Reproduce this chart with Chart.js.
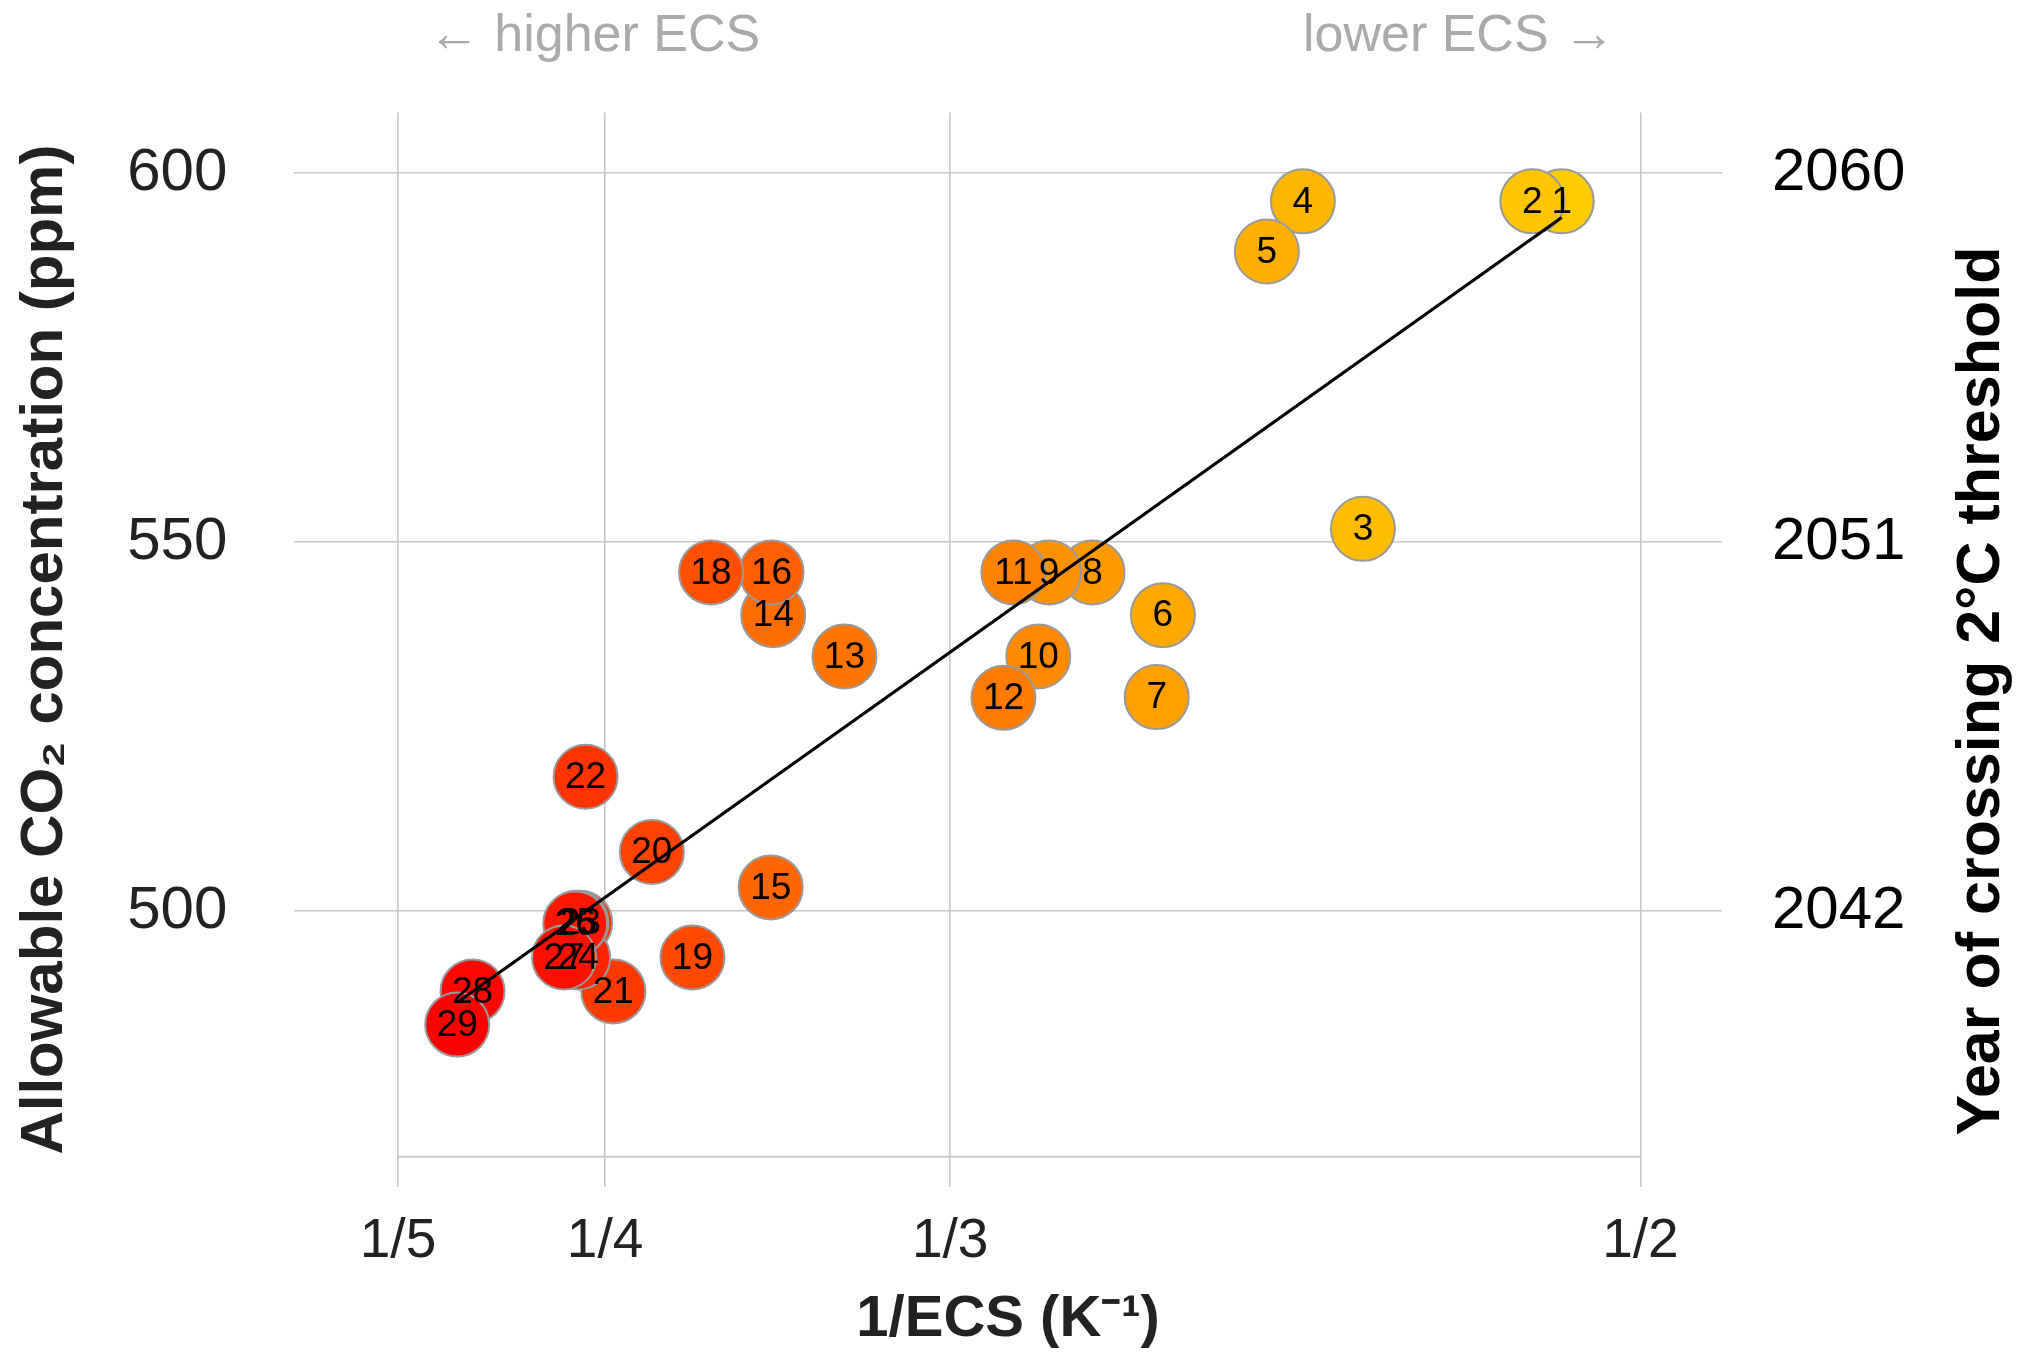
<!DOCTYPE html>
<html>
<head>
<meta charset="utf-8">
<script src="https://cdn.jsdelivr.net/npm/chart.js@4/dist/chart.umd.min.js"></script>
<style>
  html, body { margin: 0; padding: 0; background: #ffffff; }
  #wrap { width: 2025px; height: 1355px; }
</style>
</head>
<body>
<div id="wrap"><canvas id="c" width="2025" height="1355"></canvas></div>
<script>
// ---- data ----
const modelIds = [1,2,3,4,5,6,7,8,9,10,11,12,13,14,15,16,18,19,20,21,22,23,24,25,26,27,28,29];
const invEcs   = [0.4810,0.4739,0.4330,0.4185,0.4098,0.3847,0.3832,0.3677,0.3572,0.3546,0.3486,0.3462,0.3078,0.2906,0.2900,0.2902,0.2756,0.2711,0.2613,0.2520,0.2453,0.2440,0.2435,0.2431,0.2428,0.2401,0.2180,0.2143];
const co2Ppm   = [596.2,596.2,551.8,596.2,589.4,540.1,529.0,545.9,545.9,534.5,545.9,528.9,534.5,540.1,503.2,545.9,545.9,493.7,508.0,489.1,518.2,498.4,493.7,498.4,498.3,493.7,489.1,484.6];
const fitX     = [0.2143, 0.4810];
const fitY     = [487.6, 594.0];
const xTickValues = [0.2, 0.25, 1/3, 0.5];
const xTickLabels = ['1/5', '1/4', '1/3', '1/2'];
const yTickValues = [500, 550, 600];
const yTickLabels = ['500', '550', '600'];
const yearLabels  = ['2042', '2051', '2060'];
const baselinePpm = 466.7;

const FONT = "'Liberation Sans', Arial, Helvetica, sans-serif";
const GRID = '#c8c8c8';

const pointColors = modelIds.map(id => `hsl(${48 * (29 - id) / 28}, 100%, 50%)`);

const scatterData = invEcs.map((x, i) => ({ x: x, y: co2Ppm[i] }));
const fitData = fitX.map((x, i) => ({ x: x, y: fitY[i] }));
const baseData = [{ x: xTickValues[0], y: baselinePpm }, { x: xTickValues[xTickValues.length - 1], y: baselinePpm }];

const labelPlugin = {
  id: 'labels',
  afterDatasetsDraw(chart) {
    const ctx = chart.ctx;
    const meta = chart.getDatasetMeta(1);
    ctx.save();
    ctx.font = `37px ${FONT}`;
    ctx.fillStyle = '#000';
    ctx.textAlign = 'center';
    ctx.textBaseline = 'middle';
    meta.data.forEach((pt, i) => {
      ctx.fillText(String(modelIds[i]), pt.x, pt.y + 1);
    });
    ctx.restore();
  },
  afterDraw(chart) {
    const ctx = chart.ctx;
    ctx.save();
    ctx.fillStyle = '#aaaaaa';
    ctx.font = `52px ${FONT}`;
    ctx.textAlign = 'center';
    ctx.textBaseline = 'middle';
    ctx.fillText('\u2190 higher ECS', 594, 37);
    ctx.fillText('lower ECS \u2192', 1459, 37);
    // right axis title, reading bottom to top
    ctx.fillStyle = '#000';
    ctx.font = `bold 61px ${FONT}`;
    ctx.translate(1982, 691);
    ctx.rotate(-Math.PI / 2);
    ctx.fillText('Year of crossing 2\u00B0C threshold', 0, 0);
    ctx.restore();
  }
};

new Chart(document.getElementById('c'), {
  type: 'scatter',
  data: {
    datasets: [
      {
        type: 'line',
        data: fitData,
        borderColor: '#000',
        borderWidth: 3.2,
        pointRadius: 0,
        fill: false,
        yAxisID: 'y'
      },
      {
        type: 'scatter',
        data: scatterData,
        pointRadius: 32,
        pointBackgroundColor: pointColors,
        pointBorderColor: '#9a9a9a',
        pointBorderWidth: 2,
        yAxisID: 'y'
      },
      {
        type: 'line',
        data: baseData,
        borderColor: GRID,
        borderWidth: 2,
        pointRadius: 0,
        fill: false,
        yAxisID: 'y'
      }
    ]
  },
  options: {
    responsive: false,
    animation: false,
    events: [],
    layout: { padding: { top: 112.5, left: 0, right: 0, bottom: 0 } },
    plugins: { legend: { display: false }, tooltip: { enabled: false } },
    scales: {
      x: {
        type: 'linear',
        position: 'bottom',
        min: 0.17496,
        max: 0.5197,
        afterBuildTicks(scale) { scale.ticks = xTickValues.map(v => ({ value: v })); },
        afterFit(scale) { scale.height = 168.3; },
        ticks: {
          callback: (v, i) => xTickLabels[i],
          font: { family: FONT, size: 55 },
          color: '#222',
          padding: 22,
          maxRotation: 0,
          autoSkip: false
        },
        grid: { color: GRID, lineWidth: 1.6, drawTicks: false },
        border: { display: false },
        title: {
          display: true,
          text: '1/ECS (K\u207B\u00B9)',
          font: { family: FONT, size: 58, weight: 'bold', lineHeight: 1.2 },
          color: '#222',
          padding: { top: 0, bottom: 0 }
        }
      },
      y: {
        type: 'linear',
        position: 'left',
        min: 462.63,
        max: 608.24,
        afterBuildTicks(scale) { scale.ticks = yTickValues.map(v => ({ value: v })); },
        afterFit(scale) { scale.width = 294.3; },
        ticks: {
          callback: (v, i) => yTickLabels[i],
          font: { family: FONT, size: 60 },
          color: '#222',
          padding: 67
        },
        grid: { color: GRID, lineWidth: 1.6, drawTicks: false },
        border: { display: false },
        title: {
          display: true,
          text: 'Allowable CO\u2082 concentration (ppm)',
          font: { family: FONT, size: 60, weight: 'bold', lineHeight: 1.2 },
          color: '#222',
          padding: { top: 9, bottom: 0 }
        }
      },
      y2: {
        type: 'linear',
        position: 'right',
        min: 462.63,
        max: 608.24,
        afterBuildTicks(scale) { scale.ticks = yTickValues.map(v => ({ value: v })); },
        afterFit(scale) { scale.width = 303; },
        ticks: {
          callback: (v, i) => yearLabels[i],
          font: { family: FONT, size: 60 },
          color: '#000',
          padding: 50
        },
        grid: { display: false, drawTicks: false },
        border: { display: false }
      }
    }
  },
  plugins: [labelPlugin]
});
</script>
</body>
</html>
